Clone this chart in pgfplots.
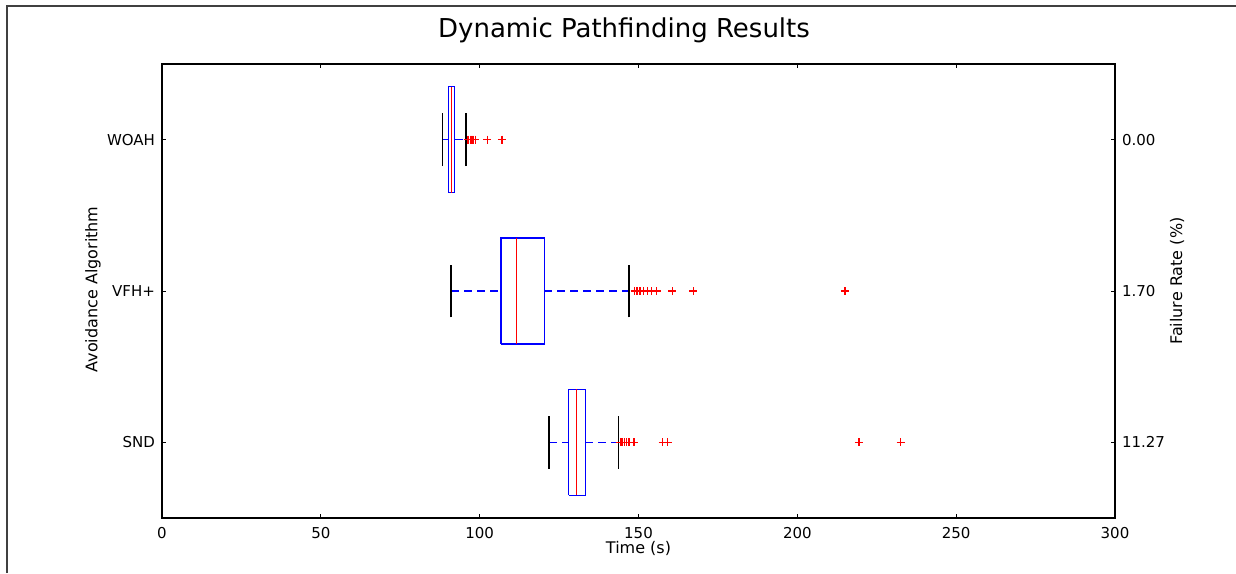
\documentclass[border=0pt]{standalone}
\usepackage{pgfplots}
\pgfplotsset{compat=1.18}
\usepackage{fontspec}
\setmainfont{DejaVu Sans}
\newcommand{\tickfont}{\fontsize{7.5}{9}\selectfont}
\newcommand{\labfont}{\fontsize{8}{9.6}\selectfont}
\begin{document}
\begin{tikzpicture}[x=0.5pt,y=0.5pt]
\useasboundingbox (0,0) rectangle (1236,573);
\draw[line width=0.6pt, black!75] (7,0) -- (7,567) -- (1236,567);
\node[anchor=base, font=\fontsize{13}{15}\selectfont] at (624,535.5) {Dynamic Pathfinding Results};
\node[anchor=base, font=\labfont] at (638.5,20) {Time (s)};
\node[rotate=90, font=\labfont] at (93,283.5) {Avoidance Algorithm};
\node[rotate=90, font=\labfont] at (1177,292) {Failure Rate (\%)};
\begin{axis}[at={(81pt,27.5pt)}, anchor=south west, scale only axis,
  width=476.5pt, height=227pt,
  xmin=0, xmax=300, ymin=0.5, ymax=3.5,
  xtick={0,50,...,300}, ytick={1,2,3},
  yticklabels={SND,VFH+,WOAH},
  xtick pos=both, ytick pos=left,
  tick align=inside, major tick length=2pt,
  every tick/.style={black, line width=0.5pt},
  axis line style={line width=0.6pt},
  ticklabel style={font=\tickfont},
  /pgf/number format/assume math mode=true,
  xticklabel style={yshift=-1pt},
  clip=false]
% WOAH
\addplot[blue, line width=0.6pt] coordinates {(90.2,2.65) (92.2,2.65) (92.2,3.35) (90.2,3.35) (90.2,2.65)};
\addplot[red, line width=0.6pt] coordinates {(91.1,2.65) (91.1,3.35)};
\addplot[blue, line width=0.6pt, dash pattern=on 4pt off 2.5pt] coordinates {(88.4,3) (90.2,3)};
\addplot[blue, line width=0.6pt, dash pattern=on 4pt off 2.5pt] coordinates {(92.2,3) (95.7,3)};
\addplot[black, line width=0.6pt] coordinates {(88.4,2.825) (88.4,3.175)};
\addplot[black, line width=0.6pt] coordinates {(95.7,2.825) (95.7,3.175)};
\addplot[red, only marks, mark=+, mark size=2pt, mark options={draw=red, solid, line width=0.6pt}] coordinates {(96.2,3) (96.6,3) (97.0,3) (97.3,3) (97.7,3) (98.1,3) (98.6,3) (102.4,3) (107.0,3)};
% VFH+
\addplot[blue, line width=0.6pt] coordinates {(106.7,1.65) (120.3,1.65) (120.3,2.35) (106.7,2.35) (106.7,1.65)};
\addplot[red, line width=0.6pt] coordinates {(111.6,1.65) (111.6,2.35)};
\addplot[blue, line width=0.6pt, dash pattern=on 4pt off 2.5pt] coordinates {(91.0,2) (106.7,2)};
\addplot[blue, line width=0.6pt, dash pattern=on 4pt off 2.5pt] coordinates {(120.3,2) (147.0,2)};
\addplot[black, line width=0.6pt] coordinates {(91.0,1.825) (91.0,2.175)};
\addplot[black, line width=0.6pt] coordinates {(147.0,1.825) (147.0,2.175)};
\addplot[red, only marks, mark=+, mark size=2pt, mark options={draw=red, solid, line width=0.6pt}] coordinates {(148.8,2) (149.3,2) (149.8,2) (150.5,2) (151.5,2) (152.8,2) (154.2,2) (155.7,2) (160.6,2) (167.3,2) (215.0,2)};
% SND
\addplot[blue, line width=0.6pt] coordinates {(128.0,0.65) (133.2,0.65) (133.2,1.35) (128.0,1.35) (128.0,0.65)};
\addplot[red, line width=0.6pt] coordinates {(130.6,0.65) (130.6,1.35)};
\addplot[blue, line width=0.6pt, dash pattern=on 4pt off 2.5pt] coordinates {(121.8,1) (128.0,1)};
\addplot[blue, line width=0.6pt, dash pattern=on 4pt off 2.5pt] coordinates {(133.2,1) (143.8,1)};
\addplot[black, line width=0.6pt] coordinates {(121.8,0.825) (121.8,1.175)};
\addplot[black, line width=0.6pt] coordinates {(143.8,0.825) (143.8,1.175)};
\addplot[red, only marks, mark=+, mark size=2pt, mark options={draw=red, solid, line width=0.6pt}] coordinates {(144.3,1) (144.8,1) (145.5,1) (146.3,1) (147.0,1) (148.6,1) (157.6,1) (159.2,1) (219.4,1) (232.5,1)};
\end{axis}
\begin{axis}[at={(81pt,27.5pt)}, anchor=south west, scale only axis,
  width=476.5pt, height=227pt,
  xmin=0, xmax=300, ymin=0.5, ymax=3.5,
  hide x axis, axis y line*=right,
  ytick={1,2,3}, yticklabels={11.27,1.70,0.00},
  tick align=inside, major tick length=2pt,
  every tick/.style={black, line width=0.5pt},
  axis line style={line width=0.6pt, -},
  ticklabel style={font=\tickfont},
  /pgf/number format/assume math mode=true]
\addplot[draw=none] coordinates {(0,1)};
\end{axis}
\end{tikzpicture}
\end{document}
